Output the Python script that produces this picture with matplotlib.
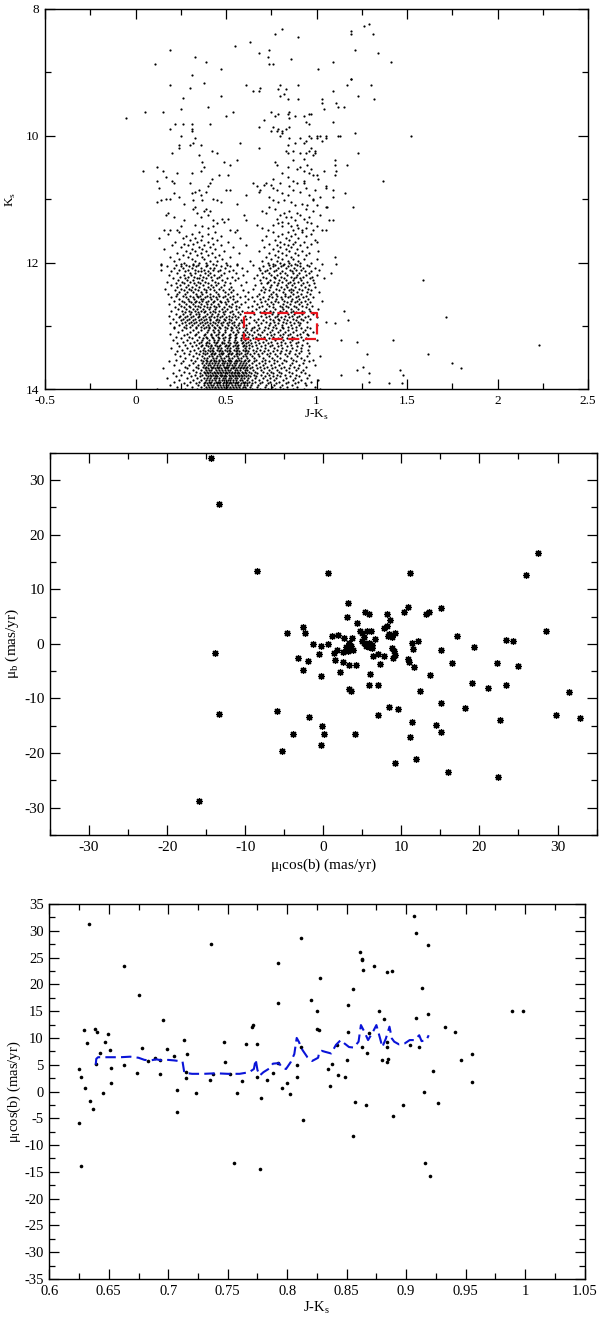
import matplotlib
matplotlib.use("Agg")
import matplotlib.pyplot as plt
from matplotlib.ticker import MultipleLocator, FuncFormatter

plt.rcParams['font.family'] = ['Liberation Serif', 'DejaVu Serif']
plt.rcParams['mathtext.fontset'] = 'custom'
plt.rcParams['mathtext.rm'] = 'Liberation Serif'
plt.rcParams['axes.unicode_minus'] = False

# --- panel 1: colour-magnitude diagram
# bright part, one string per Ks row: "Ks: (J-Ks)*100 ..."
cmd_rows = [
    "8.23: 129", "8.27: 126", "8.31: 81", "8.35: 119", "8.39: 77 131 119", "8.45: 90",
    "8.52: 63", "8.58: 55", "8.65: 19 74 121", "8.69: 68 134", "8.75: 33 73", "8.79: 86",
    "8.83: 39 141 109", "8.87: 11 74 76", "8.95: 101 47", "9.04: 31", "9.10: 119 119",
    "9.16: 38", "9.20: 19 61 80 90 117 130", "9.24: 30 69", "9.27: 79 83", "9.30: 65 68 109",
    "9.34: 82", "9.37: 80 47 123", "9.40: 26", "9.42: 84 90 132 103", "9.48: 103 111",
    "9.54: 40 112 115", "9.58: 25 104", "9.62: 5 15 54 75 85", "9.66: 79 84 96 97",
    "9.69: 50 77 88 93", "9.72: -5 85", "9.75: 71", "9.79: 94 109", "9.82: 22 26 31 41 96",
    "9.86: 68 76 85", "9.90: 19 31 79 83", "9.93: 31 75 78 81", "9.96: 81 121",
    "10.00: 25 80 96 100 102 105 112 113 152", "10.04: 33 85 91 97 100 105", "10.08: 94 103",
    "10.12: 32 58 88 93", "10.15: 24 30 36 84", "10.20: 24 68 97", "10.24: 42 83 87 96 99",
    "10.27: 20 45 84 91 94 99 123", "10.31: 35 98", "10.36: 93", "10.38: 56 87 110",
    "10.42: 37 49 77", "10.46: 52 78 95 110 117", "10.49: 12 38 84 91", "10.52: 89 97",
    "10.55: 4 15 36 93 104 111", "10.59: 23 31 81 96", "10.62: 46 51 98 100 110", "10.65: 17 84",
    "10.68: 42 76 101", "10.71: 12 20 87 93 137", "10.74: 21 30 41 65 72 80 89 93",
    "10.77: 71 75", "10.80: 40 67 85 105", "10.83: 13 76 94 105",
    "10.85: 35 50 52 69 78 87 99 109", "10.88: 33 39 68 91", "10.91: 21 31 81 116",
    "10.93: 36 61 84 96", "10.96: 24 74 102 109", "10.99: 17 19 43 98",
    "11.01: 14 32 37 45 76 82 98", "11.04: 12 47 79 86", "11.07: 27 56 92", "11.09: 88 95 100",
    "11.13: 33 74 105 106 120", "11.16: 32 39 77 94", "11.19: 38 41 70 85 98",
    "11.22: 18 34 72 82 89", "11.25: 17 40 60 80 91 102", "11.28: 21 36 83 86 96",
    "11.31: 48 51 78 93", "11.33: 27 43 61 88 107 109", "11.36: 49 81 95", "11.38: 45 79 84 97",
    "11.41: 33 67 76 89", "11.43: 25 37 43 81 86 100", "11.46: 40 70 90 94",
    "11.49: 16 19 23 52 56 73 87 92 98 103 105",
    "11.52: 24 35 44 55 76 84 92", "11.55: 18 31 40 81 88 97", "11.58: 28 37 47 72 79 86 94",
    "11.61: 13 26 33 42 58 83 90", "11.64: 30 36 45 70 77 85 99",
    "11.67: 22 34 40 51 80 88 93 100", "11.70: 27 32 43 74 82 87 97",
    "11.73: 20 29 38 47 61 78 84 91", "11.76: 25 35 41 54 71 80 86 95",
    "11.79: 16 31 37 44 76 83 89", "11.82: 28 33 39 49 68 79 85 92 101",
    "11.85: 23 30 36 42 57 74 81 88 96", "11.88: 26 34 40 46 77 83 90 94",
    "11.91: 19 29 37 44 52 72 79 86 110", "11.94: 24 31 38 48 75 81 87 93 100",
    "11.97: 21 33 41 45 63 70 78 84 90", "12.00: 27 35 39 50 73 80 85 91 97",
]
# faint, crowded part: "Ks: (J-Ks)*1000 ..."
cmd_rows_fine = [
    "12.02: 141 252 318 427 563 762 823 881 1031 1108",
    "12.04: 143 226 281 318 347 395 442 508 561 648 737 772 815 861 893 948",
    "12.06: 172 254 297 336 388 471 523 702 758 804 842 907 961",
    "12.09: 213 262 311 364 409 436 497 587 683 741 789 832 878 925 989",
    "12.12: 141 239 288 327 379 426 468 541 688 726 776 851 884 917 1012",
    "12.14: 196 275 344 362 401 458 518 617 713 766 809 863 936 972",
    "12.17: 228 302 331 383 414 487 553 698 735 797 826 871 903 958 1082",
    "12.20: 185 267 309 356 398 432 471 592 671 749 783 838 892 941 1005",
    "12.23: 248 291 323 372 417 462 534 706 764 802 857 886 927 974",
    "12.25: 207 276 338 352 391 449 507 566 652 721 771 819 874 908 963 1041",
    "12.28: 236 283 317 367 424 478 549 688 744 795 834 868 917 979 1591",
    "12.31: 172 258 301 346 382 437 493 612 731 767 811 852 896 946",
    "12.33: 221 269 324 359 403 458 521 693 728 789 843 877 924 988",
    "12.36: 197 244 292 337 371 418 442 489 583 661 748 784 829 862 913 957",
    "12.39: 231 278 314 351 398 426 474 528 707 741 803 838 881 934 994",
    "12.41: 162 253 296 328 376 411 463 515 647 718 775 823 859 902 951",
    "12.44: 218 267 308 345 388 433 482 537 594 692 737 791 846 869 921 968",
    "12.47: 243 286 319 361 392 447 496 528 624 711 762 816 857 893 947 1013",
    "12.49: 178 231 274 334 366 414 458 509 563 683 746 779 828 871 912 962",
    "12.52: 226 262 301 338 357 393 428 461 497 541 603 672 737 781 826 852 897 941",
    "12.54: 194 278 316 344 382 409 447 482 523 577 646 706 752 806 843 884 927 978",
    "12.57: 241 289 323 361 374 415 452 506 538 619 689 733 774 811 867 906 953",
    "12.60: 213 256 294 337 368 401 436 468 512 561 657 714 768 823 859 894 938 1029",
    "12.62: 268 309 328 352 389 427 471 493 547 603 694 747 789 838 881 915 966",
    "12.65: 183 238 277 318 364 397 418 456 502 534 582 671 726 762 817 852 903 946",
    "12.68: 252 293 331 347 381 433 464 517 556 641 701 739 796 831 874 922 975",
    "12.70: 217 266 302 357 393 414 447 488 529 572 623 684 757 808 843 888 941",
    "12.73: 236 281 319 338 372 406 441 476 508 557 663 719 771 814 861 897 958 1008",
    "12.76: 198 259 297 326 361 384 428 462 497 534 588 642 708 743 797 829 872 919 966 1152",
    "12.78: 273 308 344 377 411 437 481 523 569 617 686 761 811 857 884 933",
    "12.81: 224 262 301 332 353 396 421 458 491 538 577 652 714 752 789 841 876 918 981",
    "12.84: 187 248 287 318 349 386 417 448 476 516 548 604 692 736 783 827 863 905 952",
    "12.86: 239 276 307 343 372 405 432 469 502 531 568 633 719 768 806 849 893 938 1004 1713",
    "12.89: 208 263 298 329 361 388 413 451 487 519 557 612 676 742 788 823 871 917 962",
    "12.91: 254 287 318 352 379 409 442 461 493 528 583 653 704 758 794 838 884 928 1172",
    "12.94: 226 272 306 337 368 394 426 457 484 518 546 591 668 723 767 817 852 897 946 1053",
    "12.96: 191 258 296 323 357 383 411 438 472 503 534 573 627 693 741 786 829 876 909 1102",
    "12.99: 243 281 314 348 372 399 421 452 478 509 542 566 612 679 736 771 812 858 903 1002",
    "13.01: 215 268 302 333 361 389 407 436 463 497 527 554 593 652 718 762 808 841 889 948",
    "13.04: 214 281 336 381 408 437 466 503 534 571 611 643 682 731 778 816 867 912 962",
    "13.06: 257 318 364 401 426 458 494 528 563 604 636 671 708 752 796 843 884 937",
    "13.09: 236 302 347 394 433 462 497 536 567 593 618 657 697 741 786 828 871 923 981",
    "13.12: 193 287 334 386 418 456 486 523 558 598 628 677 724 767 813 856 908 947",
    "13.14: 268 327 381 415 446 479 516 547 587 607 642 688 746 798 841 893 951",
    "13.17: 223 296 349 388 421 457 492 524 556 596 623 663 712 759 807 862 916",
    "13.19: 251 314 372 396 427 463 483 519 552 583 612 648 694 735 789 839 878 942",
    "13.22: 207 282 338 369 406 436 454 488 514 547 581 604 634 676 722 768 817 867 927 1004 1133 1421",
    "13.25: 262 321 361 397 434 451 478 512 543 561 592 619 659 704 747 802 851 896 1223",
    "13.27: 228 303 351 392 408 442 476 491 522 554 589 608 637 683 731 781 826 884 948",
    "13.30: 274 334 368 391 419 437 469 499 517 548 566 597 626 667 713 753 806 857 918 2232",
    "13.32: 243 311 362 399 416 448 464 494 511 541 559 594 613 646 692 744 788 838 891 961",
    "13.35: 196 286 347 379 411 426 458 472 506 521 553 569 603 628 671 718 767 812 867 917",
    "13.38: 259 322 371 403 421 452 466 497 514 546 562 593 611 647 687 734 781 829 889 953",
    "13.40: 231 301 358 382 413 427 461 477 508 523 556 573 606 624 664 709 758 806 853 912",
    "13.43: 268 336 374 394 423 439 471 486 517 532 563 581 618 652 698 743 797 846 901 958",
    "13.45: 217 293 352 386 417 431 463 479 511 526 557 574 607 631 677 726 772 828 879 1281 1618",
    "13.48: 248 318 366 406 421 453 468 499 513 545 561 594 613 641 682 738 784 837 893 946 1021",
    "13.51: 276 339 377 397 427 442 474 488 519 534 566 583 617 653 703 752 801 857 914",
    "13.53: 226 307 361 389 418 434 464 479 509 524 556 571 604 626 668 716 763 818 868 931 983",
    "13.56: 183 264 331 372 393 409 431 444 462 483 495 514 529 551 563 584 601 622 657 697 738 781 831 887 956",
    "13.58: 252 318 366 388 404 425 437 456 478 489 508 523 544 558 577 596 613 641 682 718 766 812 862 927 1748",
    "13.61: 213 294 347 381 399 413 436 452 467 481 503 519 533 549 571 587 605 628 663 707 749 794 853 906 991",
    "13.64: 271 336 374 392 418 429 448 463 487 499 512 538 546 566 582 599 618 646 686 728 772 818 874 941 1258",
    "13.66: 152 286 343 383 401 422 439 455 471 492 506 527 541 557 576 592 611 632 671 711 756 804 848 898 1798",
    "13.69: 238 317 362 387 407 417 444 459 476 497 511 522 549 563 579 604 617 649 692 737 781 831 886 928 1221 1463",
    "13.72: 266 332 377 396 411 433 448 468 482 501 518 531 552 568 587 603 626 658 703 746 794 846 912",
    "13.74: 206 297 354 384 403 424 441 454 474 493 506 527 543 561 574 596 612 637 674 724 761 803 867 934 1291",
    "13.77: 249 326 368 392 412 428 447 466 479 496 514 533 549 566 583 599 621 653 694 737 783 824 887 956 1133 1478",
    "13.79: 221 304 359 398 415 437 452 471 488 501 523 537 556 572 591 608 631 668 716 757 799 853 906",
    "13.82: 172 283 342 379 396 409 431 443 462 484 497 516 528 547 563 581 597 623 658 703 744 776 829 881 948",
    "13.85: 241 318 364 391 406 423 438 461 477 491 511 524 539 558 577 589 614 642 684 726 763 816 868 914 1011",
    "13.88: 212 301 351 386 404 419 442 456 469 488 503 521 536 554 568 592 606 629 661 698 741 791 844 898 967 1289",
    "13.90: 268 337 376 397 414 431 449 463 484 498 514 529 547 562 583 601 618 646 687 732 776 829 882 938 1402 1472",
    "13.93: 193 286 344 381 399 417 428 451 466 482 499 513 532 548 564 577 598 614 639 676 719 763 809 866 943",
    "13.96: 231 313 361 388 408 422 437 458 474 489 507 522 541 553 572 594 607 633 669 713 752 796 838 893 992",
    "13.99: 121 276 341 378 394 412 433 446 463 479 494 516 527 543 561 578 589 612 644 688 731 772 813 872 931 1022",
]
box_color = [0.6, 1.0]
box_ks = [12.8, 13.2]

# --- panel 2: proper motions (mas/yr)
pm_l = [-14.4, -13.3, -8.5, -13.9, -13.3, -15.9, -2.6, -4.7, -2.3, -1.3, -3.2, -2.0, -2.6,
        -5.9, -1.8, -3.9, -5.3, 0.6, 11.1, 27.5, 26.0, 3.2, 3.0, 5.4, 5.9, 4.3, 8.2, 8.6,
        8.1, 7.8, 10.3, 10.8, 13.2, 13.5, 15.1, -0.3, -0.5, 0.6, 1.1, 1.9, 2.7, 2.9, 3.3,
        3.5, 3.8, 3.2, 2.5, 1.7, 1.4, 1.5, 2.5, 3.3, 4.2, 2.2, -0.3, 3.7, 4.7, 5.0, 5.2,
        4.9, 5.2, 5.5, 5.8, 5.9, 6.2, 6.3, 5.6, 6.1, 6.6, 6.4, 7.0, 7.2, 6.0, 5.8, 7.0,
        7.8, 8.4, 8.8, 9.2, 8.3, 8.8, 9.0, 8.9, 9.2, 10.9, 11.0, 11.4, 11.5, 12.1, 11.6,
        13.7, 12.4, 15.1, 17.1, 16.5, 19.3, 19.1, 21.1, 22.2, 23.4, 24.3, 24.9, 23.4, 28.5,
        31.5, 29.8, 32.9, 22.6, 22.4, 16.0, 18.1, 15.1, 14.4, 15.1, 11.4, 11.1, 11.9, 9.2,
        9.6, 8.4, 7.0, 4.1, 3.3, 3.5, -0.1, 0.1, -0.3]
pm_b = [34.1, 25.7, 13.4, -1.6, -12.8, -28.7, 3.1, 2.0, 1.9, 0.0, -2.6, -3.1, -4.7,
        -12.3, -13.4, -16.6, -19.6, 13.0, 13.0, 16.6, 12.6, 7.5, 5.0, 5.8, 5.5, 3.8, 5.5, 4.4,
        3.3, 2.9, 5.8, 6.7, 5.4, 5.9, 6.6, -0.4, -1.9, 0.0, 1.5, 1.7, 1.0, -0.5, 0.1,
        -0.4, -1.2, -1.4, -1.5, -1.2, -1.6, -2.9, -3.3, -3.8, -3.8, -5.2, -5.8, 1.1, 2.3, 2.0, 1.3,
        0.5, 0.1, -0.4, 0.1, -0.5, -0.2, -0.7, 2.4, 2.4, 0.8, -2.3, -1.8, -3.6, -5.6, -7.5, -7.6,
        -2.3, 1.8, 1.3, 1.9, 1.4, -0.7, -1.4, -2.6, -2.1, -2.7, -3.3, 0.1, -0.9, 0.6, -4.2,
        -5.7, -8.7, -1.2, 1.5, -3.5, -0.5, -7.1, -8.0, -3.5, 0.7, 0.5, -4.0, -7.5, 2.3,
        -8.8, -13.0, -13.5, -13.9, -24.4, -23.5, -11.7, -10.8, -14.8, -16.1, -14.3, -17.0, -21.1, -21.8,
        -12.0, -11.5, -13.0, -16.5, -8.2, -8.6, -15.1, -16.6, -18.6]

# --- panel 3: mu_l cos(b) against J-Ks for the stars inside the box
sel_jk = [0.625, 0.625, 0.627, 0.629, 0.630, 0.632, 0.627, 0.634, 0.637, 0.638, 0.640, 0.639,
          0.643, 0.645, 0.647, 0.649, 0.651, 0.652, 0.652, 0.663, 0.663, 0.674, 0.675, 0.678,
          0.683, 0.689, 0.693, 0.693, 0.696, 0.699, 0.705, 0.707, 0.707, 0.713, 0.716, 0.715,
          0.715, 0.723, 0.735, 0.736, 0.738, 0.747, 0.748, 0.752, 0.755, 0.758, 0.762, 0.765,
          0.770, 0.771, 0.775, 0.775, 0.777, 0.778, 0.783, 0.788, 0.792, 0.792, 0.792, 0.796,
          0.800, 0.802, 0.808, 0.808, 0.812, 0.812, 0.813, 0.820, 0.825, 0.825, 0.827, 0.828,
          0.633, 0.907, 0.908, 0.918, 0.861, 0.863, 0.863, 0.864, 0.873, 0.884, 0.888, 0.855,
          0.913, 0.851, 0.877, 0.881, 0.908, 0.918, 0.933, 0.941, 0.989, 0.998, 0.851, 0.869,
          0.863, 0.867, 0.884, 0.884, 0.903, 0.911, 0.842, 0.880, 0.884, 0.885, 0.850, 0.838,
          0.834, 0.843, 0.849, 0.836, 0.923, 0.946, 0.955, 0.955, 0.915, 0.857, 0.866, 0.897,
          0.927, 0.889, 0.855, 0.916, 0.920]
sel_mul = [-5.9, 4.2, 2.7, 11.4, 0.6, 9.0, -13.9, -1.8, -3.2, 11.6, 11.1, 5.1,
           7.1, -0.2, 9.3, 10.8, 7.8, 4.4, 1.6, 23.5, 4.9, 3.5, 18.1, 8.2,
           5.7, 6.2, 5.8, 3.3, 13.3, 8.0, 6.7, 0.2, -3.9, 9.6, 7.0, 3.6,
           2.6, -0.3, 2.1, 27.6, 3.3, 9.2, 5.5, 3.2, -13.3, -0.3, 1.9, 8.8,
           12.1, 12.5, 2.7, 8.9, -14.4, -1.2, 2.2, 3.4, 24.0, 16.6, 5.4, 0.6,
           1.6, -0.4, 5.0, 2.7, 28.6, 8.3, -5.4, 17.1, 15.1, 11.7, 11.4, 21.1,
           31.3, 32.7, 29.6, 27.3, 26.1, 24.8, 24.5, 22.7, 23.5, 22.3, 22.5, 19.2,
           19.4, 16.1, 15.1, 13.6, 13.8, 14.5, 12.0, 11.2, 15.1, 15.1, 11.1, 10.9,
           8.3, 7.2, 9.2, 8.3, 8.7, 8.4, 8.7, 5.9, 5.5, 6.1, 5.9, 5.2,
           4.2, 3.1, 2.7, 1.1, 3.8, 5.9, 7.0, 1.7, 0.0, -1.9, -2.6, -2.6,
           -2.2, -4.6, -8.4, -13.3, -15.8]

# running mean (blue dashed)
mean_jk = [0.639, 0.6395, 0.641, 0.650, 0.660, 0.668, 0.675, 0.680, 0.685, 0.690, 0.695, 0.700,
           0.705, 0.712, 0.7135, 0.720, 0.730, 0.740, 0.750, 0.760, 0.768, 0.772, 0.7735, 0.775,
           0.777, 0.780, 0.785, 0.788, 0.793, 0.796, 0.799, 0.803, 0.806, 0.808, 0.810, 0.8115,
           0.813, 0.817, 0.821, 0.826, 0.827, 0.829, 0.832, 0.837, 0.841, 0.845, 0.848, 0.852,
           0.856, 0.860, 0.862, 0.865, 0.868, 0.872, 0.875, 0.878, 0.880, 0.883, 0.886, 0.888,
           0.890, 0.894, 0.899, 0.903, 0.907, 0.911, 0.913, 0.917, 0.919]
mean_mul = [5.0, 6.1, 6.4, 6.4, 6.4, 6.5, 6.3, 5.9, 5.8, 6.0, 5.8, 5.9,
            5.8, 5.6, 3.5, 3.3, 3.3, 3.4, 3.3, 3.3, 3.6, 4.2, 6.0, 4.0,
            3.0, 3.6, 4.3, 5.2, 5.3, 4.4, 4.2, 5.5, 7.0, 10.0, 9.2, 8.3,
            7.7, 6.4, 5.7, 6.3, 7.4, 7.6, 7.4, 7.1, 8.7, 9.6, 9.0, 8.3,
            8.2, 9.3, 12.4, 11.1, 9.6, 11.1, 12.4, 10.0, 8.3, 9.9, 12.1, 9.9,
            9.3, 8.8, 9.0, 9.6, 9.6, 10.5, 9.4, 9.6, 10.5]


def style_axes(ax, size):
    ax.tick_params(which='both', direction='in', top=True, right=True,
                   labelsize=size, width=0.9, pad=4)
    ax.tick_params(which='major', length=7)
    ax.tick_params(which='minor', length=4)
    for sp in ax.spines.values():
        sp.set_linewidth(1.0)


def parse_rows(rows, scale):
    xs, ys = [], []
    for row in rows:
        ks, cols = row.split(":")
        for c in cols.split():
            xs.append(int(c) / scale)
            ys.append(float(ks))
    return xs, ys


fmt_g = FuncFormatter(lambda v, pos: f"{v:g}")

c1, k1 = parse_rows(cmd_rows, 100)
c2, k2 = parse_rows(cmd_rows_fine, 1000)
cmd_color = c1 + c2
cmd_ks = k1 + k2

fig = plt.figure(figsize=(6.0, 13.18), dpi=100)

# panel 1
ax1 = fig.add_axes([0.075, 0.7046, 0.905, 0.2886])
ax1.scatter(cmd_color, cmd_ks, s=2.5, c='black', marker='o', linewidths=0)
ax1.plot([box_color[0], box_color[1], box_color[1], box_color[0], box_color[0]],
         [box_ks[0], box_ks[0], box_ks[1], box_ks[1], box_ks[0]],
         color='#e8141c', lw=1.6, dashes=(5, 2.5))
ax1.set_xlim(-0.5, 2.5)
ax1.set_ylim(14, 8)
ax1.xaxis.set_major_locator(MultipleLocator(0.5))
ax1.xaxis.set_minor_locator(MultipleLocator(0.25))
ax1.yaxis.set_major_locator(MultipleLocator(2))
ax1.yaxis.set_minor_locator(MultipleLocator(1))
ax1.xaxis.set_major_formatter(fmt_g)
ax1.set_xlabel('J-K$_\\mathregular{s}$', fontsize=9.5, labelpad=1)
ax1.set_ylabel('K$_\\mathregular{s}$', fontsize=9.5, labelpad=6)
style_axes(ax1, 9.5)

# panel 2
ax2 = fig.add_axes([0.0833, 0.3665, 0.911, 0.290])
ax2.plot(pm_l, pm_b, linestyle='none', marker=(8, 2, 0), markersize=5,
         mec='black', mew=0.9)
ax2.set_xlim(-35, 35)
ax2.set_ylim(-35, 35)
ax2.xaxis.set_major_locator(MultipleLocator(10))
ax2.xaxis.set_minor_locator(MultipleLocator(5))
ax2.yaxis.set_major_locator(MultipleLocator(10))
ax2.yaxis.set_minor_locator(MultipleLocator(5))
ax2.set_xlabel('μ$_\\mathregular{l}$cos(b) (mas/yr)', fontsize=11, labelpad=2)
ax2.set_ylabel('μ$_\\mathregular{b}$ (mas/yr)', fontsize=11, labelpad=2)
style_axes(ax2, 11)

# panel 3
ax3 = fig.add_axes([0.0822, 0.0296, 0.892, 0.2845])
ax3.plot(sel_jk, sel_mul, linestyle='none', marker='o', markersize=2.6,
         mfc='black', mec='black', mew=0)
ax3.plot(mean_jk, mean_mul, color='#0a14d8', lw=1.5, dashes=(5, 2.5))
ax3.set_xlim(0.6, 1.05)
ax3.set_ylim(-35, 35)
ax3.xaxis.set_major_locator(MultipleLocator(0.05))
ax3.xaxis.set_minor_locator(MultipleLocator(0.025))
ax3.yaxis.set_major_locator(MultipleLocator(5))
ax3.yaxis.set_minor_locator(MultipleLocator(2.5))
ax3.xaxis.set_major_formatter(fmt_g)
ax3.set_xlabel('J-K$_\\mathregular{s}$', fontsize=10.5, labelpad=1)
ax3.set_ylabel('μ$_\\mathregular{l}$cos(b) (mas/yr)', fontsize=10.5, labelpad=1)
style_axes(ax3, 10.5)

fig.savefig('out.png', dpi=100)
